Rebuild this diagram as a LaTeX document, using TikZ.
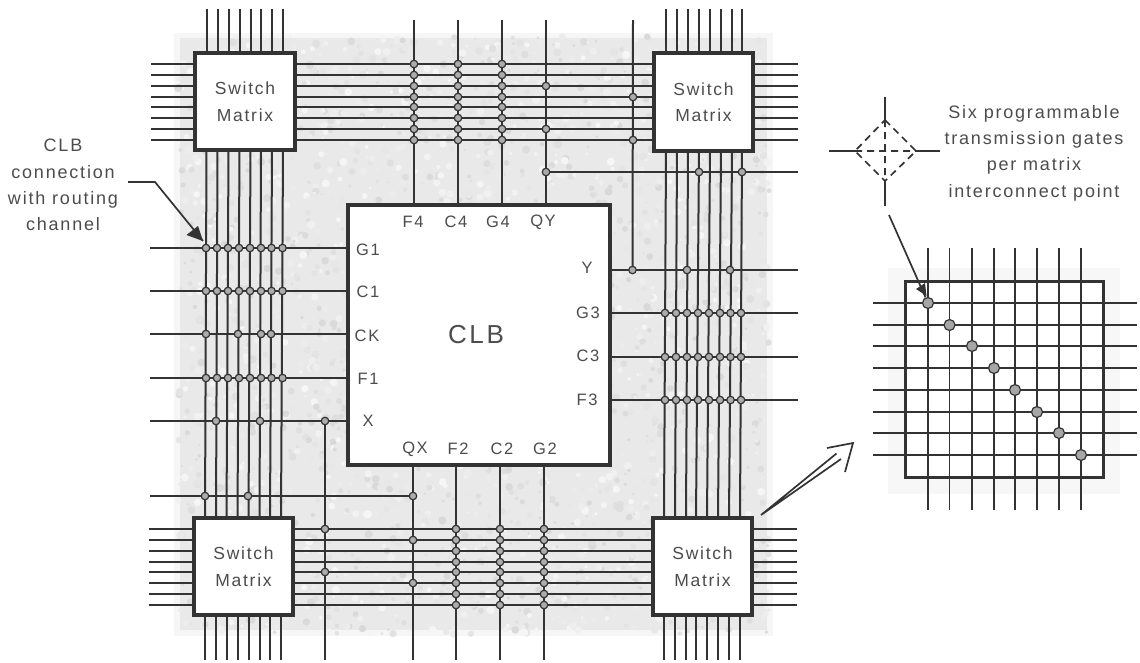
\documentclass[tikz,border=0pt]{standalone}
\usepackage{fontspec}
\setmainfont[LetterSpace=10]{Liberation Sans}
\definecolor{ink}{gray}{0.2}
\definecolor{txt}{gray}{0.3}
\tikzset{
 wire/.style={draw=ink,line width=2pt},
 thin wire/.style={draw=ink,line width=1.7pt},
 boxn/.style={draw=ink,line width=3.2pt,fill=white,inner sep=0pt,outer sep=0pt,align=center,text=txt,font=\fontsize{17.5}{26.5}\selectfont},
 pin/.style={text=txt,font=\fontsize{16.5}{18}\selectfont,inner sep=0pt},
 dotn/.style={circle,draw=ink,line width=1.2pt,fill=gray!65,minimum size=7.5pt,inner sep=0pt},
 bigdot/.style={circle,draw=ink,line width=1.2pt,fill=gray!70,minimum size=11pt,inner sep=0pt},
 lab/.style={text=txt,align=center,inner sep=0pt,font=\fontsize{18}{26.4}\selectfont},
}
\begin{document}
\begin{tikzpicture}[x=1pt,y=-1pt]
\useasboundingbox (0,0) rectangle (1140,662);
% mottled background
\fill[gray!7] (174,33) rectangle (773,636);
\fill[gray!17] (180,38) rectangle (767,630);
\pgfmathsetseed{7}
\foreach \k in {1,...,3000}{
 \pgfmathsetmacro{\px}{178+rnd*592}
 \pgfmathsetmacro{\py}{36+rnd*598}
 \pgfmathsetmacro{\pr}{1+rnd*3.2}
 \pgfmathsetmacro{\pc}{int(7+rnd*24)}
 \fill[gray!\pc] (\px,\py) circle[radius=\pr];
}
\fill[gray!6] (888,268) rectangle (1120,494);

% nodes
\node[boxn,minimum width=100pt,minimum height=97pt] (tl) at (245,101.5) {Switch\\Matrix};
\node[boxn,minimum width=99pt,minimum height=98pt] (tr) at (703.5,102) {Switch\\Matrix};
\node[boxn,minimum width=99pt,minimum height=97pt] (bl) at (243.5,566.5) {Switch\\Matrix};
\node[boxn,minimum width=99pt,minimum height=97pt] (br) at (702.5,566.5) {Switch\\Matrix};
\node[boxn,minimum width=262pt,minimum height=260pt] (clb) at (479,335) {};

% outer stubs and channels
\foreach \a/\b [count=\i] in {206.5/205,217.5/216,228.5/226.5,239.5/237.5,250.5/248.5,261/259.5,272/270,283/281}{
 \coordinate (ltop\i) at (\a,9);
 \coordinate (lbot\i) at (\b,660);
 \draw[wire] (ltop\i) -- (ltop\i |- tl.north);
 \draw[wire] (lbot\i) -- (lbot\i |- bl.south);
 \draw[wire] (ltop\i |- tl.south) -- (lbot\i |- bl.north);
}
\foreach \a/\b [count=\i] in {666/664,677/675,688/686,699/696,710/707,721/718,732/729,742/740}{
 \coordinate (rtop\i) at (\a,9);
 \coordinate (rbot\i) at (\b,660);
 \draw[wire] (rtop\i) -- (rtop\i |- tr.north);
 \draw[wire] (rbot\i) -- (rbot\i |- br.south);
 \draw[wire] (rtop\i |- tr.south) -- (rbot\i |- br.north);
}
\foreach \y [count=\i] in {64,75,86,97,107,118,129,140}{
 \coordinate (tlin\i) at (151,\y);
 \coordinate (trin\i) at (798,\y);
 \draw[wire] (tlin\i) -- (tlin\i -| tl.west);
 \draw[wire] (tlin\i -| tl.east) -- (tlin\i -| tr.west);
 \draw[wire] (trin\i) -- (trin\i -| tr.east);
}
\foreach \y [count=\i] in {529,540,551,562,572,583,594,605}{
 \coordinate (blin\i) at (149,\y);
 \coordinate (brin\i) at (797,\y);
 \draw[wire] (blin\i) -- (blin\i -| bl.west);
 \draw[wire] (blin\i -| bl.east) -- (blin\i -| br.west);
 \draw[wire] (brin\i) -- (brin\i -| br.east);
}

% CLB pins, top and bottom
\foreach \n/\x/\tx in {F4/414/413,C4/458/456,G4/502/498,QY/546/543}{
 \coordinate (e\n) at (\x,20);
 \draw[wire] (e\n) -- (e\n |- clb.north);
 \node[pin] (l\n) at (\tx,222) {\n};
}
\coordinate (eY) at (633,20);
\foreach \n/\x/\tx in {QX/413/415,F2/456/458,C2/500/502,G2/544/545}{
 \coordinate (e\n) at (\x,660);
 \draw[wire] (e\n) -- (e\n |- clb.south);
 \node[pin] (l\n) at (\tx,449) {\n};
}
% left pins
\foreach \n/\y/\tx in {G1/248/368,C1/291/368,CK/334/367,F1/378/368,X/421/368}{
 \coordinate (e\n) at (150,\y);
 \draw[wire] (e\n) -- (e\n -| clb.west);
}
\node[pin] (lG1) at (368,250) {G1};
\node[pin] (lC1) at (368,292) {C1};
\node[pin] (lCK) at (367,336) {CK};
\node[pin] (lF1) at (368,379) {F1};
\node[pin] (lX) at (368,421) {X};
% right pins
\foreach \n/\y in {Yr/270,G3/313,C3/357,F3/400}{
 \coordinate (e\n) at (798,\y);
 \draw[wire] (e\n) -- (e\n -| clb.east);
}
\node[pin] (lY) at (587,268) {Y};
\node[pin] (lG3) at (588,313) {G3};
\node[pin] (lC3) at (588,356) {C3};
\node[pin] (lF3) at (587,400) {F3};
% long tap lines
\coordinate (yt) at (632.5,270);
\draw[wire] (eY) -- (yt);
\coordinate (qyt) at (546,172);
\coordinate (qyr) at (798,172);
\draw[wire] (qyt) -- (qyr);
\coordinate (xt) at (325,421);
\coordinate (xb) at (325,660);
\draw[wire] (xt) -- (xb);
\coordinate (qxt) at (413,496);
\coordinate (qxl) at (150,496);
\draw[wire] (qxl) -- (qxt);

% dots on the CLB side pins
\foreach \n/\y in {G1/248,C1/291,F1/378}{
 \foreach \x [count=\i] in {206,217,228,239,250,261,271.5,282.5}{
  \node[dotn] (d\n\i) at (\x,\y) {};
 }
}
\foreach \x [count=\i] in {206,238,261,271}{\node[dotn] (dCK\i) at (\x,334) {};}
\foreach \x [count=\i] in {216,260,325}{\node[dotn] (dX\i) at (\x,421) {};}
\foreach \x [count=\i] in {205,248,413}{\node[dotn] (dQ\i) at (\x,496) {};}
\foreach \n/\y in {G3/313,C3/357,F3/400}{
 \foreach \x [count=\i] in {665,676,687,698,709,720,730.5,741}{
  \node[dotn] (d\n\i) at (\x,\y) {};
 }
}
\foreach \x [count=\i] in {632.5,687,730}{\node[dotn] (dY\i) at (\x,270) {};}
\foreach \x [count=\i] in {546,699,742}{\node[dotn] (dQY\i) at (\x,172) {};}
\foreach \n/\x in {F4/414,C4/458,G4/502}{
 \foreach \y [count=\i] in {64,75,86,97,107,118,129,140}{
  \node[dotn] (t\n\i) at (\x,\y) {};
 }
}
\foreach \n/\x in {F2/456,C2/500,G2/544}{
 \foreach \y [count=\i] in {529,540,551,562,572,583,594,605}{
  \node[dotn] (b\n\i) at (\x,\y) {};
 }
}
\node[dotn] (q1) at (546,86) {};
\node[dotn] (q2) at (546,129) {};
\node[dotn] (q3) at (633,97) {};
\node[dotn] (q4) at (633,140) {};
\node[dotn] (q5) at (325,529) {};
\node[dotn] (q6) at (325,572) {};
\node[dotn] (q7) at (413,540) {};
\node[dotn] (q8) at (413,583) {};

\node[text=txt,inner sep=0pt,font=\fontsize{26}{30}\selectfont] (clbt) at (476,335) {CLB};

% callout, CLB connection
\node[lab] (ct) at (63,185) {CLB\\connection\\with routing\\channel};
\coordinate (c1) at (128,182);
\coordinate (c2) at (155,182);
\coordinate (c3) at (203,241);
\draw[ink,line width=1.7pt] (c1) -- (c2) -- (c3);
\fill[ink] (c3) -- (186.5,235) -- (198,226) -- cycle;

% hollow arrow to the enlarged matrix
\coordinate (h0) at (761,515);
\coordinate (h1) at (853,443);
\coordinate (h2) at (827,448);
\coordinate (h3) at (845,472);
\coordinate (h4) at (836.5,453.5);
\coordinate (h5) at (841,459);
\draw[ink,line width=1.7pt,line join=miter] (h4) -- (h0) -- (h5);
\draw[ink,line width=1.7pt,line join=miter] (h2) -- (h1) -- (h3);

% enlarged matrix
\node[draw=ink,line width=3pt,fill=white,minimum width=198pt,minimum height=196pt,inner sep=0pt,outer sep=0pt] (mx) at (1004,379) {};
\foreach \x [count=\i] in {928,949.5,972,994,1015,1037,1059,1081}{
 \coordinate (mt\i) at (\x,248);
 \coordinate (mb\i) at (\x,510);
 \draw[thin wire] (mt\i) -- (mb\i);
}
\foreach \y [count=\i] in {303,325,346,368,390,412,433,455}{
 \coordinate (ml\i) at (873,\y);
 \coordinate (mr\i) at (1137,\y);
 \draw[thin wire] (ml\i) -- (mr\i);
 \node[bigdot] (md\i) at (mt\i |- ml\i) {};
}

% detail of one interconnect point
\coordinate (dn) at (885,97);
\coordinate (ds) at (885,206);
\coordinate (dw) at (829,151);
\coordinate (de) at (940,151);
\coordinate (dtop) at (885,120);
\coordinate (dbot) at (885,181);
\coordinate (dlef) at (855,151);
\coordinate (drig) at (916,151);
\draw[thin wire] (dn) -- (dtop) (ds) -- (dbot) (dw) -- (dlef) (de) -- (drig);
\draw[thin wire,dash pattern=on 7pt off 5pt] (dtop) -- (drig) -- (dbot) -- (dlef) -- cycle (dtop) -- (dbot) (dlef) -- (drig);
\coordinate (a0) at (889,215);
\draw[thin wire] (a0) -- (md1);
\fill[ink] (926.5,296) -- (916,289) -- (925,283) -- cycle;
\node[lab] (gt) at (1034,153) {Six programmable\\transmission gates\\per matrix\\interconnect point};
\end{tikzpicture}
\end{document}
